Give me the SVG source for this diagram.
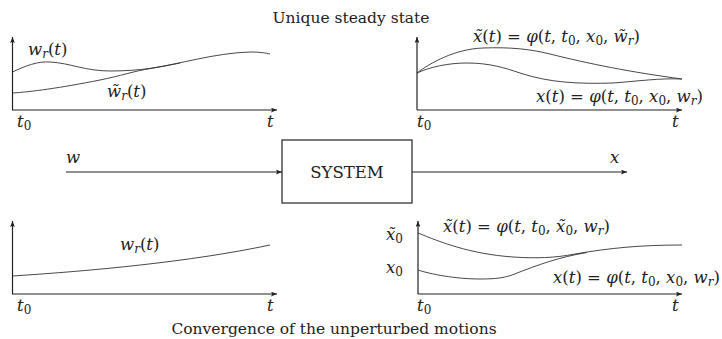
<svg xmlns="http://www.w3.org/2000/svg" width="722" height="339" viewBox="0 0 722 339" font-family="'DejaVu Serif', 'Liberation Serif', serif">
<defs>
<marker id="ah" viewBox="0 0 10 8" refX="10" refY="4" markerWidth="6" markerHeight="5" orient="auto" markerUnits="userSpaceOnUse">
<path d="M0,0 L10,4 L0,8 L2,4 Z" fill="#222"/>
</marker>
</defs>
<style>
.ax{stroke:#222;stroke-width:1.2;fill:none}
.cv{stroke:#333;stroke-width:0.9;fill:none}
.ln{stroke:#222;stroke-width:1.1;fill:none}
text{fill:#222;font-size:16.5px}
.i{font-style:italic}
.s{font-size:12px}
.ttl{font-size:15.5px}
</style>
<rect width="722" height="339" fill="#fff"/>
<text class="ttl" x="351" y="23" text-anchor="middle">Unique steady state</text>
<text class="ttl" x="334" y="334" text-anchor="middle">Convergence of the unperturbed motions</text>

<g id="plot-top-left">
<line class="ax" x1="12.5" y1="110" x2="12.5" y2="37" marker-end="url(#ah)"/>
<line class="ax" x1="12" y1="110" x2="277" y2="110" marker-end="url(#ah)"/>
<path class="cv" d="M12.5,72 C25,66 38,61 50,62 C70,63 85,71 110,71 C125,71 138,70 150,68.5 C180,64 215,53 250,52 C260,52 266,53 270,54"/>
<path class="cv" d="M12.5,93 C30,92 60,88 100,80 C120,76 135,71 150,68.5 C160,67 170,65 180,63"/>
<text x="28" y="55"><tspan class="i">w</tspan><tspan class="s i" dy="3">r</tspan><tspan dy="-3">(</tspan><tspan class="i">t</tspan>)</text>
<text x="107" y="97"><tspan class="i">w̃</tspan><tspan class="s i" dy="3">r</tspan><tspan dy="-3">(</tspan><tspan class="i">t</tspan>)</text>
<text x="17" y="127"><tspan class="i">t</tspan><tspan class="s" dy="3">0</tspan></text>
<text x="267" y="127" class="i">t</text>
</g>

<g id="plot-top-right">
<line class="ax" x1="417" y1="110" x2="417" y2="37" marker-end="url(#ah)"/>
<line class="ax" x1="417" y1="110" x2="682" y2="110" marker-end="url(#ah)"/>
<path class="cv" d="M417,73 C430,63 455,49 483,48 C510,47 530,49 550,54 C590,64 630,72 682,79"/>
<path class="cv" d="M417,73 C430,67 448,63 467,63 C490,63 505,68 520,73 C550,83 580,84 613,83 C640,81 660,78 682,79"/>
<text x="473" y="42"><tspan class="i">x̃</tspan>(<tspan class="i">t</tspan>) = <tspan class="i">φ</tspan>(<tspan class="i">t</tspan>, <tspan class="i">t</tspan><tspan class="s" dy="3">0</tspan><tspan dy="-3">, </tspan><tspan class="i">x</tspan><tspan class="s" dy="3">0</tspan><tspan dy="-3">, </tspan><tspan class="i">w̃</tspan><tspan class="s i" dy="3">r</tspan><tspan dy="-3">)</tspan></text>
<text x="536" y="102"><tspan class="i">x</tspan>(<tspan class="i">t</tspan>) = <tspan class="i">φ</tspan>(<tspan class="i">t</tspan>, <tspan class="i">t</tspan><tspan class="s" dy="3">0</tspan><tspan dy="-3">, </tspan><tspan class="i">x</tspan><tspan class="s" dy="3">0</tspan><tspan dy="-3">, </tspan><tspan class="i">w</tspan><tspan class="s i" dy="3">r</tspan><tspan dy="-3">)</tspan></text>
<text x="417" y="127"><tspan class="i">t</tspan><tspan class="s" dy="3">0</tspan></text>
<text x="672" y="127" class="i">t</text>
</g>

<g id="system">
<rect x="282" y="140" width="130" height="63" fill="#fff" stroke="#222" stroke-width="1.2"/>
<text x="347" y="178" text-anchor="middle">SYSTEM</text>
</g>

<g id="connectors">
<line class="ln" x1="66" y1="172" x2="282" y2="172" marker-end="url(#ah)"/>
<line class="ln" x1="412" y1="172" x2="627" y2="172" marker-end="url(#ah)"/>
<text x="66" y="163" class="i">w</text>
<text x="610" y="163" class="i">x</text>
</g>

<g id="plot-bottom-left">
<line class="ax" x1="12.5" y1="294" x2="12.5" y2="221" marker-end="url(#ah)"/>
<line class="ax" x1="12" y1="294" x2="277" y2="294" marker-end="url(#ah)"/>
<path class="cv" d="M12.5,276 C90,271 190,262 270,245"/>
<text x="120" y="250"><tspan class="i">w</tspan><tspan class="s i" dy="3">r</tspan><tspan dy="-3">(</tspan><tspan class="i">t</tspan>)</text>
<text x="17" y="311"><tspan class="i">t</tspan><tspan class="s" dy="3">0</tspan></text>
<text x="267" y="311" class="i">t</text>
</g>

<g id="plot-bottom-right">
<line class="ax" x1="418" y1="294" x2="418" y2="221" marker-end="url(#ah)"/>
<line class="ax" x1="418" y1="294" x2="682" y2="294" marker-end="url(#ah)"/>
<path class="cv" d="M418,233 C440,242 470,254 513,257 C535,258.5 555,258 575,254 C610,248 640,245 682,245"/>
<path class="cv" d="M418,270 C430,274 455,279 480,279 C495,279 503,278 512,275 C540,264 560,257 587,252.5"/>
<text x="386" y="240"><tspan class="i">x̃</tspan><tspan class="s" dy="3">0</tspan></text>
<text x="386" y="273"><tspan class="i">x</tspan><tspan class="s" dy="3">0</tspan></text>
<text x="443" y="232"><tspan class="i">x̃</tspan>(<tspan class="i">t</tspan>) = <tspan class="i">φ</tspan>(<tspan class="i">t</tspan>, <tspan class="i">t</tspan><tspan class="s" dy="3">0</tspan><tspan dy="-3">, </tspan><tspan class="i">x̃</tspan><tspan class="s" dy="3">0</tspan><tspan dy="-3">, </tspan><tspan class="i">w</tspan><tspan class="s i" dy="3">r</tspan><tspan dy="-3">)</tspan></text>
<text x="553" y="283"><tspan class="i">x</tspan>(<tspan class="i">t</tspan>) = <tspan class="i">φ</tspan>(<tspan class="i">t</tspan>, <tspan class="i">t</tspan><tspan class="s" dy="3">0</tspan><tspan dy="-3">, </tspan><tspan class="i">x</tspan><tspan class="s" dy="3">0</tspan><tspan dy="-3">, </tspan><tspan class="i">w</tspan><tspan class="s i" dy="3">r</tspan><tspan dy="-3">)</tspan></text>
<text x="417" y="311"><tspan class="i">t</tspan><tspan class="s" dy="3">0</tspan></text>
<text x="672" y="311" class="i">t</text>
</g>
</svg>
